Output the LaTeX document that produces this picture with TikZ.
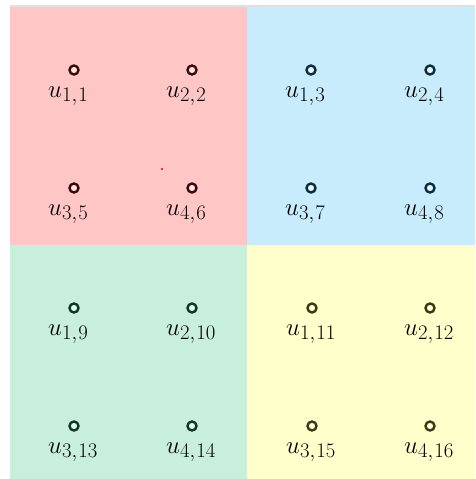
\documentclass[tikz,border=0pt]{standalone}
\definecolor{pinkbg}{HTML}{FFC6C6}
\definecolor{bluebg}{HTML}{C8ECFB}
\definecolor{greenbg}{HTML}{C8EEDC}
\definecolor{yellowbg}{HTML}{FFFFCC}
\definecolor{pinkdot}{HTML}{3A0808}
\definecolor{bluedot}{HTML}{0C2C3C}
\definecolor{greendot}{HTML}{0A3820}
\definecolor{yellowdot}{HTML}{3A3A0C}
\definecolor{topline}{HTML}{E0E0E0}
\tikzset{
  vdot/.style={circle, draw=#1, line width=2.4pt, fill=white, fill opacity=0.55, minimum size=9pt, inner sep=0pt},
  ulabel/.style={anchor=base west, inner sep=0pt, font=\fontsize{28}{32}\selectfont},
}
\newcommand{\ulab}[2]{$u_{#1,\mkern1mu#2}$}
\begin{document}
\begin{tikzpicture}[x=1pt,y=-1pt]
\useasboundingbox (0,0) rectangle (475,479);
\fill[white] (0,0) rectangle (475,479);
% regions
\fill[pinkbg]   (10,7)   rectangle (247,245);
\fill[bluebg]   (247,7)  rectangle (475,245);
\fill[greenbg]  (10,245) rectangle (247,479);
\fill[yellowbg] (247,245) rectangle (475,479);
\draw[topline, line width=2pt] (10,5.5) -- (475,5.5);
% stray red mark
\fill[red!85!black] (162,169) circle (1.2);
% dots and labels
\foreach \x/\y/\c/\i/\j/\n in {
  74/70/pinkdot/1/1/a, 192/70/pinkdot/2/2/b, 74/188/pinkdot/3/5/c, 192/188/pinkdot/4/6/d,
  311/70/bluedot/1/3/e, 430/70/bluedot/2/4/f, 311/188/bluedot/3/7/g, 430/188/bluedot/4/8/h,
  74/308/greendot/1/9/i, 192/308/greendot/2/10/j, 74/426/greendot/3/13/k, 192/426/greendot/4/14/l,
  312/308/yellowdot/1/11/m, 430/308/yellowdot/2/12/n, 312/426/yellowdot/3/15/o, 430/426/yellowdot/4/16/p}{
  \node[vdot=\c] (d\n) at (\x,\y) {};
  \node[ulabel] (l\n) at (\x-26,\y+27) {\ulab{\i}{\j}};
}
\end{tikzpicture}
\end{document}
